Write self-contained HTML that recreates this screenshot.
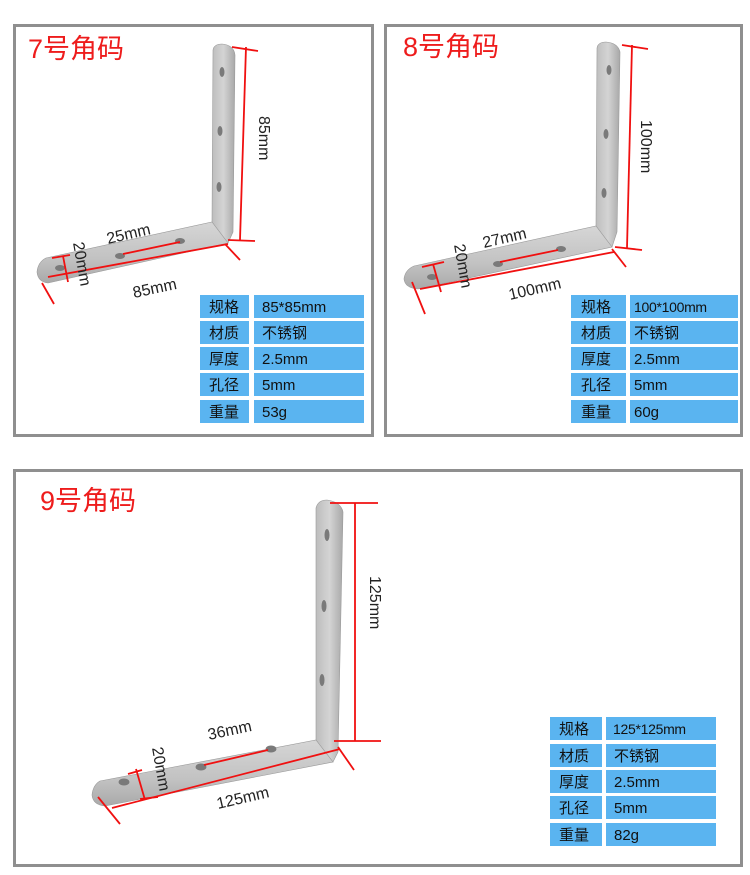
<!DOCTYPE html>
<html><head><meta charset="utf-8"><style>
html,body{margin:0;padding:0;background:#fff;}
svg{display:block;}
text{font-family:"Liberation Sans","Noto Sans CJK SC",sans-serif;}
.t{fill:#ee1c1c;font-size:27px;}
.d{fill:#222;font-size:16px;}
.c{fill:#5ab4f0;}
.ct{fill:#111;font-size:15px;}
.cw{fill:#111;font-size:14px;letter-spacing:-0.3px;}
.r{stroke:#f01010;stroke-width:1.8;fill:none;}
</style></head><body>
<svg width="750" height="875" viewBox="0 0 750 875">
<defs>
<linearGradient id="gv" x1="0" x2="1" y1="0" y2="0">
<stop offset="0" stop-color="#bdbdbd"/><stop offset="0.5" stop-color="#d4d4d4"/><stop offset="1" stop-color="#a8a8a8"/></linearGradient>
<linearGradient id="gh" x1="0" x2="0" y1="0" y2="1">
<stop offset="0" stop-color="#d6d6d6"/><stop offset="0.6" stop-color="#c2c2c2"/><stop offset="1" stop-color="#a9a9a9"/></linearGradient>
</defs>
<rect width="750" height="875" fill="#fff"/>
<rect x="14.5" y="25.5" width="358" height="410" fill="none" stroke="#8f8f8f" stroke-width="3"/>
<rect x="385.5" y="25.5" width="356" height="410" fill="none" stroke="#8f8f8f" stroke-width="3"/>
<rect x="14.5" y="470.5" width="727" height="395" fill="none" stroke="#8f8f8f" stroke-width="3"/>

<!-- ===== Panel 1 ===== -->
<text class="t" x="28" y="58">7号角码</text>
<path d="M213,50 Q214,44 222,44 Q234,45 235,55 L233,232 L228,243 L212,222 Z" fill="url(#gv)" stroke="#9a9a9a" stroke-width="0.6"/>
<path d="M212,222 L228,243 L48,283 Q38,282 37,272 Q38,262 46,258 Z" fill="url(#gh)" stroke="#9a9a9a" stroke-width="0.6"/>
<ellipse cx="222" cy="72" rx="2.5" ry="5" fill="#7a7a7a"/>
<ellipse cx="220" cy="131" rx="2.5" ry="5" fill="#7a7a7a"/>
<ellipse cx="219" cy="187" rx="2.5" ry="5" fill="#7a7a7a"/>
<ellipse cx="60" cy="268" rx="5" ry="3" fill="#7a7a7a"/>
<ellipse cx="120" cy="256" rx="5" ry="3" fill="#7a7a7a"/>
<ellipse cx="180" cy="241" rx="5" ry="3" fill="#7a7a7a"/>
<line class="r" x1="246" y1="47" x2="240" y2="240"/>
<line class="r" x1="232" y1="47" x2="258" y2="51"/>
<line class="r" x1="228" y1="240" x2="255" y2="241"/>
<line class="r" x1="48" y1="277" x2="228" y2="244"/>
<line class="r" x1="42" y1="283" x2="54" y2="304"/>
<line class="r" x1="225" y1="244" x2="240" y2="260"/>
<line class="r" x1="123" y1="254" x2="180" y2="242"/>
<line class="r" x1="63" y1="256" x2="68" y2="282"/>
<line class="r" x1="52" y1="258" x2="70" y2="255"/>
<text class="d" transform="translate(108,244) rotate(-13)">25mm</text>
<text class="d" transform="translate(134,298) rotate(-12)">85mm</text>
<text class="d" transform="translate(73,243) rotate(80)">20mm</text>
<text class="d" transform="translate(259,116) rotate(90)">85mm</text>
<g>
<rect class="c" x="200" y="295" width="49" height="23"/><rect class="c" x="254" y="295" width="110" height="23"/>
<rect class="c" x="200" y="321" width="49" height="23"/><rect class="c" x="254" y="321" width="110" height="23"/>
<rect class="c" x="200" y="347" width="49" height="23"/><rect class="c" x="254" y="347" width="110" height="23"/>
<rect class="c" x="200" y="373" width="49" height="23"/><rect class="c" x="254" y="373" width="110" height="23"/>
<rect class="c" x="200" y="400" width="49" height="23"/><rect class="c" x="254" y="400" width="110" height="23"/>
<text class="ct" x="209" y="312">规格</text><text class="ct" x="262" y="312">85*85mm</text>
<text class="ct" x="209" y="338">材质</text><text class="ct" x="262" y="338">不锈钢</text>
<text class="ct" x="209" y="364">厚度</text><text class="ct" x="262" y="364">2.5mm</text>
<text class="ct" x="209" y="390">孔径</text><text class="ct" x="262" y="390">5mm</text>
<text class="ct" x="209" y="417">重量</text><text class="ct" x="262" y="417">53g</text>
</g>

<!-- ===== Panel 2 ===== -->
<text class="t" x="403" y="56">8号角码</text>
<path d="M597,48 Q598,42 606,42 Q618,43 620,52 L617,232 L612,247 L596,226 Z" fill="url(#gv)" stroke="#9a9a9a" stroke-width="0.6"/>
<path d="M596,226 L612,247 L418,289 Q405,288 404,279 Q405,270 414,266 Z" fill="url(#gh)" stroke="#9a9a9a" stroke-width="0.6"/>
<ellipse cx="609" cy="70" rx="2.5" ry="5" fill="#7a7a7a"/>
<ellipse cx="606" cy="134" rx="2.5" ry="5" fill="#7a7a7a"/>
<ellipse cx="604" cy="193" rx="2.5" ry="5" fill="#7a7a7a"/>
<ellipse cx="432" cy="277" rx="5" ry="3" fill="#7a7a7a"/>
<ellipse cx="498" cy="264" rx="5" ry="3" fill="#7a7a7a"/>
<ellipse cx="561" cy="249" rx="5" ry="3" fill="#7a7a7a"/>
<line class="r" x1="632" y1="45" x2="627" y2="248"/>
<line class="r" x1="622" y1="45" x2="648" y2="49"/>
<line class="r" x1="615" y1="247" x2="642" y2="250"/>
<line class="r" x1="420" y1="289" x2="614" y2="252"/>
<line class="r" x1="412" y1="282" x2="425" y2="314"/>
<line class="r" x1="612" y1="249" x2="626" y2="267"/>
<line class="r" x1="500" y1="262" x2="558" y2="250"/>
<line class="r" x1="433" y1="264" x2="441" y2="292"/>
<line class="r" x1="422" y1="267" x2="444" y2="262"/>
<text class="d" transform="translate(484,248) rotate(-13)">27mm</text>
<text class="d" transform="translate(510,300) rotate(-13)">100mm</text>
<text class="d" transform="translate(454,245) rotate(80)">20mm</text>
<text class="d" transform="translate(641,120) rotate(90)">100mm</text>
<g>
<rect class="c" x="571" y="295" width="55" height="23"/><rect class="c" x="630" y="295" width="108" height="23"/>
<rect class="c" x="571" y="321" width="55" height="23"/><rect class="c" x="630" y="321" width="108" height="23"/>
<rect class="c" x="571" y="347" width="55" height="23"/><rect class="c" x="630" y="347" width="108" height="23"/>
<rect class="c" x="571" y="373" width="55" height="23"/><rect class="c" x="630" y="373" width="108" height="23"/>
<rect class="c" x="571" y="400" width="55" height="23"/><rect class="c" x="630" y="400" width="108" height="23"/>
<text class="ct" x="581" y="312">规格</text><text class="cw" x="634" y="312">100*100mm</text>
<text class="ct" x="581" y="338">材质</text><text class="ct" x="634" y="338">不锈钢</text>
<text class="ct" x="581" y="364">厚度</text><text class="ct" x="634" y="364">2.5mm</text>
<text class="ct" x="581" y="390">孔径</text><text class="ct" x="634" y="390">5mm</text>
<text class="ct" x="581" y="417">重量</text><text class="ct" x="634" y="417">60g</text>
</g>

<!-- ===== Panel 3 ===== -->
<text class="t" x="40" y="510">9号角码</text>
<path d="M316,508 Q318,500 327,500 Q341,502 343,512 L338,752 L333,762 L316,740 Z" fill="url(#gv)" stroke="#9a9a9a" stroke-width="0.6"/>
<path d="M316,740 L333,762 L105,806 Q93,805 92,795 Q93,785 100,781 Z" fill="url(#gh)" stroke="#9a9a9a" stroke-width="0.6"/>
<ellipse cx="327" cy="535" rx="2.5" ry="6" fill="#7a7a7a"/>
<ellipse cx="324" cy="606" rx="2.5" ry="6" fill="#7a7a7a"/>
<ellipse cx="322" cy="680" rx="2.5" ry="6" fill="#7a7a7a"/>
<ellipse cx="124" cy="782" rx="5.5" ry="3.5" fill="#7a7a7a"/>
<ellipse cx="201" cy="767" rx="5.5" ry="3.5" fill="#7a7a7a"/>
<ellipse cx="271" cy="749" rx="5.5" ry="3.5" fill="#7a7a7a"/>
<line class="r" x1="355" y1="503" x2="355" y2="741"/>
<line class="r" x1="330" y1="503" x2="378" y2="503"/>
<line class="r" x1="334" y1="741" x2="381" y2="741"/>
<line class="r" x1="112" y1="808" x2="340" y2="749"/>
<line class="r" x1="98" y1="797" x2="120" y2="824"/>
<line class="r" x1="338" y1="747" x2="354" y2="770"/>
<line class="r" x1="204" y1="765" x2="268" y2="750"/>
<line class="r" x1="136" y1="769" x2="145" y2="800"/>
<line class="r" x1="128" y1="774" x2="142" y2="770"/>
<line class="r" x1="140" y1="799" x2="158" y2="797"/>
<text class="d" transform="translate(209,740) rotate(-12)">36mm</text>
<text class="d" transform="translate(218,809) rotate(-13)">125mm</text>
<text class="d" transform="translate(152,748) rotate(80)">20mm</text>
<text class="d" transform="translate(370,576) rotate(90)">125mm</text>
<g>
<rect class="c" x="550" y="717" width="52" height="23"/><rect class="c" x="606" y="717" width="110" height="23"/>
<rect class="c" x="550" y="744" width="52" height="23"/><rect class="c" x="606" y="744" width="110" height="23"/>
<rect class="c" x="550" y="770" width="52" height="23"/><rect class="c" x="606" y="770" width="110" height="23"/>
<rect class="c" x="550" y="796" width="52" height="23"/><rect class="c" x="606" y="796" width="110" height="23"/>
<rect class="c" x="550" y="823" width="52" height="23"/><rect class="c" x="606" y="823" width="110" height="23"/>
<text class="ct" x="559" y="734">规格</text><text class="cw" x="613" y="734">125*125mm</text>
<text class="ct" x="559" y="761">材质</text><text class="ct" x="614" y="761">不锈钢</text>
<text class="ct" x="559" y="787">厚度</text><text class="ct" x="614" y="787">2.5mm</text>
<text class="ct" x="559" y="813">孔径</text><text class="ct" x="614" y="813">5mm</text>
<text class="ct" x="559" y="840">重量</text><text class="ct" x="614" y="840">82g</text>
</g>
</svg>
</body></html>
